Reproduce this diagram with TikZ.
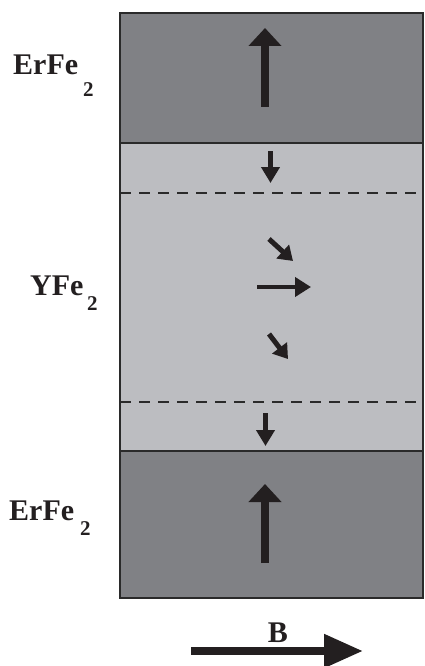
\documentclass[tikz,border=0pt]{standalone}
\usepackage{fontspec}
\setmainfont{Liberation Serif}
\usetikzlibrary{arrows.meta}

\definecolor{layerdark}{HTML}{808185}
\definecolor{layerlight}{HTML}{BCBDC1}
\definecolor{edge}{HTML}{2A2A2A}
\definecolor{ink}{HTML}{231F20}

\tikzset{
  label text/.style={inner sep=0pt, anchor=base west, font=\fontsize{30}{30}\selectfont\bfseries, text=ink},
  sub text/.style={inner sep=0pt, anchor=base west, font=\fontsize{21}{21}\selectfont\bfseries, text=ink},
  layer edge/.style={draw=edge, line width=2.5pt},
  boundary/.style={draw=edge, line width=2pt, dash pattern=on 11pt off 8pt},
  big moment/.style={draw=ink, line width=8pt, -{Triangle[length=18pt,width=32pt]}},
  small moment/.style={draw=ink, line width=5pt, -{Triangle[length=16pt,width=18pt]}},
  field arrow/.style={draw=ink, line width=8pt, -{Triangle[length=39pt,width=32pt]}}
}

\begin{document}
\begin{tikzpicture}[x=1pt, y=-1pt]
  \useasboundingbox (0,0) rectangle (425,666);

  % layers of the trilayer stack
  \fill[layerlight] (120,143) rectangle (423,451);
  \fill[layerdark] (120,13) rectangle (423,143);
  \fill[layerdark] (120,451) rectangle (423,598);

  % domain-wall boundaries inside the soft layer
  \draw[boundary] (120,193) -- (423,193);
  \draw[boundary] (120,402) -- (423,402);

  % outlines and interfaces
  \draw[layer edge] (120,143) -- (423,143);
  \draw[layer edge] (120,451) -- (423,451);
  \draw[layer edge] (120,13) rectangle (423,598);

  % hard-layer magnetisation
  \draw[big moment] (265,107) -- (265,28);
  \draw[big moment] (265,563) -- (265,484);

  % spins in the soft layer
  \draw[small moment] (270.5,151) -- (270.5,183);
  \draw[small moment, -{Triangle[length=14pt,width=18pt]}] (269,239) -- (293,261);
  \draw[small moment, line width=4.5pt, -{Triangle[length=16pt,width=19pt]}] (257,287) -- (311,287);
  \draw[small moment, -{Triangle[length=14pt,width=18pt]}] (269,334) -- (288,359);
  \draw[small moment] (265.5,413) -- (265.5,446);

  % layer labels
  \node[label text] (erTop) at (13,75) {ErFe};
  \node[sub text] (erTopSub) at (83,97) {2};
  \node[label text] (yfe) at (30,295) {YFe};
  \node[sub text] (yfeSub) at (87,310) {2};
  \node[label text] (erBot) at (9,520) {ErFe};
  \node[sub text] (erBotSub) at (80,535) {2};

  % applied field
  \draw[field arrow] (191,651) -- (363,651);
  \node[label text, anchor=base] (field) at (278,642) {B};
\end{tikzpicture}
\end{document}
